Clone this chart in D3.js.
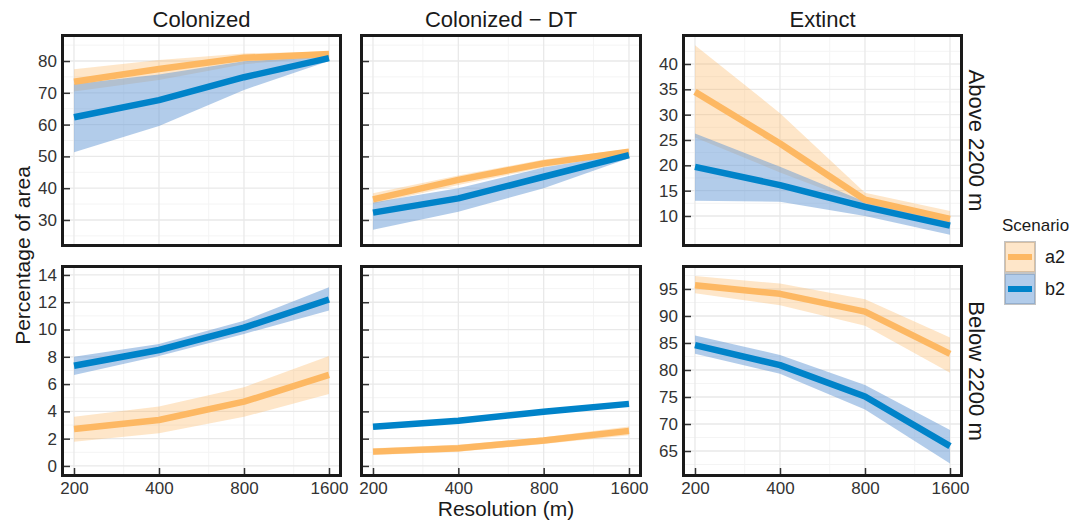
<!DOCTYPE html>
<html>
<head>
<meta charset="utf-8">
<script src="https://cdn.jsdelivr.net/npm/d3@7"></script>
<style>
body { margin: 0; background: #fff; }
svg { font-family: "Liberation Sans", Arial, sans-serif; }
</style>
</head>
<body>
<div id="wrapper"></div>
<script>
const resolutions = [200, 400, 800, 1600];
const minorRes = [300, 600, 1200];
const scenarios = ["a2", "b2"];
const metrics = ["Colonized", "Colonized \u2212 DT", "Extinct"];
const zones = ["Above 2200 m", "Below 2200 m"];

// Colonized, above 2200 m
const colAboveA2 = [73.5, 77.5, 81.0, 82.2];
const colAboveA2Lo = [70.4, 74.0, 79.0, 81.3];
const colAboveA2Hi = [77.4, 80.3, 82.4, 83.0];
const colAboveB2 = [62.3, 67.7, 74.9, 80.9];
const colAboveB2Lo = [51.3, 59.6, 70.9, 80.0];
const colAboveB2Hi = [72.8, 75.8, 79.9, 81.5];

// Colonized - DT, above 2200 m
const dtAboveA2 = [36.5, 42.6, 47.8, 51.5];
const dtAboveA2Lo = [35.0, 41.0, 46.5, 51.0];
const dtAboveA2Hi = [38.4, 44.0, 49.0, 52.3];
const dtAboveB2 = [32.3, 36.8, 43.6, 50.4];
const dtAboveB2Lo = [26.9, 32.6, 40.0, 49.4];
const dtAboveB2Hi = [35.5, 40.0, 46.5, 51.0];

// Extinct, above 2200 m
const extAboveA2 = [34.5, 24.3, 13.2, 9.4];
const extAboveA2Lo = [25.5, 18.6, 12.2, 8.6];
const extAboveA2Hi = [43.7, 30.3, 14.6, 11.0];
const extAboveB2 = [19.7, 16.1, 11.8, 8.1];
const extAboveB2Lo = [13.0, 12.8, 10.0, 6.3];
const extAboveB2Hi = [26.3, 19.7, 12.8, 9.0];

// Colonized, below 2200 m
const colBelowA2 = [2.71, 3.37, 4.71, 6.67];
const colBelowA2Lo = [1.78, 2.39, 3.6, 5.28];
const colBelowA2Hi = [3.6, 4.35, 5.77, 8.06];
const colBelowB2 = [7.35, 8.5, 10.14, 12.2];
const colBelowB2Lo = [6.67, 8.06, 9.68, 11.4];
const colBelowB2Hi = [8.0, 8.94, 10.65, 13.1];

// Colonized - DT, below 2200 m
const dtBelowA2 = [1.05, 1.3, 1.86, 2.57];
const dtBelowA2Lo = [0.8, 1.05, 1.6, 2.25];
const dtBelowA2Hi = [1.3, 1.55, 2.1, 2.9];
const dtBelowB2 = [2.88, 3.32, 3.98, 4.55];
const dtBelowB2Lo = [2.7, 3.15, 3.85, 4.4];
const dtBelowB2Hi = [3.05, 3.5, 4.1, 4.7];

// Extinct, below 2200 m
const extBelowA2 = [95.7, 94.1, 90.8, 83.0];
const extBelowA2Lo = [94.2, 92.0, 88.2, 79.5];
const extBelowA2Hi = [97.4, 96.0, 93.1, 86.0];
const extBelowB2 = [84.6, 80.9, 75.1, 65.9];
const extBelowB2Lo = [83.0, 79.3, 72.7, 62.7];
const extBelowB2Hi = [86.4, 82.8, 77.2, 68.9];

// tick labels
const ticksColAbove = [30, 40, 50, 60, 70, 80];
const ticksColBelow = [0, 2, 4, 6, 8, 10, 12, 14];
const ticksExtAbove = [10, 15, 20, 25, 30, 35, 40];
const ticksExtBelow = [65, 70, 75, 80, 85, 90, 95];

function draw() {
    const parent = d3.select("#wrapper");
    parent.selectAll("*").remove();

    const width = 1073, height = 520;
    const svg = parent.append("svg").attr("width", width).attr("height", height);

    const colX = [[61, 342], [360, 642], [682, 963]];
    const rowY = [[34, 247], [265, 477]];
    const lineColor = { a2: "#FDB863", b2: "#0083C9" };
    const fillColor = { a2: "rgba(253,184,99,0.35)", b2: "rgba(102,153,214,0.5)" };

    // shared y per row for the first two columns, own y for Extinct
    const yLimits = [
        [[21.5, 88.5], [21.5, 88.5], [3.88, 45.92]],
        [[-0.81, 14.73], [-0.81, 14.73], [60.19, 99.44]]
    ];
    const yTicks = [
        [ticksColAbove, ticksColAbove, ticksExtAbove],
        [ticksColBelow, ticksColBelow, ticksExtBelow]
    ];
    const data = [
        [
            { a2: [colAboveA2, colAboveA2Lo, colAboveA2Hi], b2: [colAboveB2, colAboveB2Lo, colAboveB2Hi] },
            { a2: [dtAboveA2, dtAboveA2Lo, dtAboveA2Hi], b2: [dtAboveB2, dtAboveB2Lo, dtAboveB2Hi] },
            { a2: [extAboveA2, extAboveA2Lo, extAboveA2Hi], b2: [extAboveB2, extAboveB2Lo, extAboveB2Hi] }
        ],
        [
            { a2: [colBelowA2, colBelowA2Lo, colBelowA2Hi], b2: [colBelowB2, colBelowB2Lo, colBelowB2Hi] },
            { a2: [dtBelowA2, dtBelowA2Lo, dtBelowA2Hi], b2: [dtBelowB2, dtBelowB2Lo, dtBelowB2Hi] },
            { a2: [extBelowA2, extBelowA2Lo, extBelowA2Hi], b2: [extBelowB2, extBelowB2Lo, extBelowB2Hi] }
        ]
    ];

    for (let r = 0; r < 2; r++) {
        for (let c = 0; c < 3; c++) {
            const [x0, x1] = colX[c];
            const [y0, y1] = rowY[r];
            const x = d3.scaleLog().base(2).domain([200, 1600]).range([x0 + 13, x1 - 13]);
            const y = d3.scaleLinear().domain(yLimits[r][c]).range([y1, y0]);
            const ticks = yTicks[r][c];
            const step = ticks[1] - ticks[0];
            const lim = yLimits[r][c];
            const minors = d3.range(ticks[0] - step / 2, ticks[ticks.length - 1] + step, step)
                .filter(v => v > lim[0] && v < lim[1]);

            const g = svg.append("g");
            g.append("rect").attr("x", x0).attr("y", y0)
                .attr("width", x1 - x0).attr("height", y1 - y0).attr("fill", "#fff");

            // grid
            g.selectAll(".minx").data(minorRes).join("line")
                .attr("x1", d => x(d)).attr("x2", d => x(d)).attr("y1", y0).attr("y2", y1)
                .attr("stroke", "#f4f4f4").attr("stroke-width", 1);
            g.selectAll(".miny").data(minors).join("line")
                .attr("x1", x0).attr("x2", x1).attr("y1", d => y(d)).attr("y2", d => y(d))
                .attr("stroke", "#f4f4f4").attr("stroke-width", 1);
            g.selectAll(".majx").data(resolutions).join("line")
                .attr("x1", d => x(d)).attr("x2", d => x(d)).attr("y1", y0).attr("y2", y1)
                .attr("stroke", "#e9e9e9").attr("stroke-width", 1.3);
            g.selectAll(".majy").data(ticks).join("line")
                .attr("x1", x0).attr("x2", x1).attr("y1", d => y(d)).attr("y2", d => y(d))
                .attr("stroke", "#e9e9e9").attr("stroke-width", 1.3);

            const area = d3.area()
                .x((d, i) => x(resolutions[i]))
                .y0(d => y(d[0])).y1(d => y(d[1]));
            const line = d3.line()
                .x((d, i) => x(resolutions[i]))
                .y(d => y(d));

            scenarios.forEach(s => {
                const [, lo, hi] = data[r][c][s];
                g.append("path")
                    .datum(lo.map((v, i) => [v, hi[i]]))
                    .attr("d", area)
                    .attr("fill", fillColor[s]);
            });
            scenarios.forEach(s => {
                g.append("path")
                    .datum(data[r][c][s][0])
                    .attr("d", line)
                    .attr("fill", "none")
                    .attr("stroke", lineColor[s])
                    .attr("stroke-width", 6.5)
                    .attr("stroke-linejoin", "round");
            });

            // y axis, ticks pointing inward
            const yAxis = d3.axisLeft(y).tickValues(ticks).tickSize(-9).tickPadding(4);
            if (c == 1) yAxis.tickFormat("");
            const ya = g.append("g").attr("transform", "translate(" + x0 + ",0)").call(yAxis);
            ya.select(".domain").remove();
            ya.selectAll("line").attr("stroke", "#333").attr("stroke-width", 1.5);
            ya.selectAll("text").attr("fill", "#333").style("font-size", "17px")
                .style("font-family", "'Liberation Sans', Arial, sans-serif");

            if (r == 1) {
                const xAxis = d3.axisBottom(x).tickValues(resolutions)
                    .tickFormat(d3.format("d")).tickSize(-9).tickPadding(5);
                const xa = g.append("g").attr("transform", "translate(0," + y1 + ")").call(xAxis);
                xa.select(".domain").remove();
                xa.selectAll("line").attr("stroke", "#333").attr("stroke-width", 1.5);
                xa.selectAll("text").attr("fill", "#333").style("font-size", "17px")
                    .style("font-family", "'Liberation Sans', Arial, sans-serif");
            }

            g.append("rect").attr("x", x0 + 1.5).attr("y", y0 + 1.5)
                .attr("width", x1 - x0 - 3).attr("height", y1 - y0 - 3)
                .attr("fill", "none").attr("stroke", "#1a1a1a").attr("stroke-width", 3);
        }
    }

    // strips
    metrics.forEach((m, c) => {
        svg.append("text")
            .attr("x", (colX[c][0] + colX[c][1]) / 2)
            .attr("y", 27)
            .attr("text-anchor", "middle")
            .style("font-size", "22px")
            .attr("fill", "#1a1a1a")
            .text(m);
    });
    zones.forEach((z, r) => {
        const cy = (rowY[r][0] + rowY[r][1]) / 2;
        svg.append("text")
            .attr("transform", "translate(976," + cy + ") rotate(90)")
            .attr("text-anchor", "middle")
            .attr("dominant-baseline", "central")
            .style("font-size", "22px")
            .attr("fill", "#1a1a1a")
            .text(z);
    });

    // axis titles
    svg.append("text")
        .attr("x", 506)
        .attr("y", 516)
        .attr("text-anchor", "middle")
        .style("font-size", "21px")
        .attr("fill", "#1a1a1a")
        .text("Resolution (m)");
    svg.append("text")
        .attr("transform", "translate(22," + (rowY[0][0] + rowY[1][1]) / 2 + ") rotate(-90)")
        .attr("text-anchor", "middle")
        .attr("dominant-baseline", "central")
        .style("font-size", "21px")
        .attr("fill", "#1a1a1a")
        .text("Percentage of area");

    // legend
    const leg = svg.append("g").attr("transform", "translate(1002,0)");
    leg.append("text").attr("x", 0).attr("y", 231)
        .style("font-size", "17px").attr("fill", "#1a1a1a").text("Scenario");
    scenarios.forEach((s, i) => {
        const top = 241 + i * 32;
        leg.append("rect").attr("x", 3).attr("y", top + 1)
            .attr("width", 30).attr("height", 30)
            .attr("fill", "#fff").attr("stroke", "#c4c4c4").attr("stroke-width", 2);
        leg.append("rect").attr("x", 3).attr("y", top + 1)
            .attr("width", 30).attr("height", 30)
            .attr("fill", fillColor[s]);
        leg.append("line").attr("x1", 6).attr("x2", 30)
            .attr("y1", top + 16).attr("y2", top + 16)
            .attr("stroke", lineColor[s]).attr("stroke-width", 6);
        leg.append("text").attr("x", 43).attr("y", top + 16)
            .attr("dominant-baseline", "central")
            .style("font-size", "18px").attr("fill", "#1a1a1a").text(s);
    });
}
draw();
</script>
</body>
</html>
